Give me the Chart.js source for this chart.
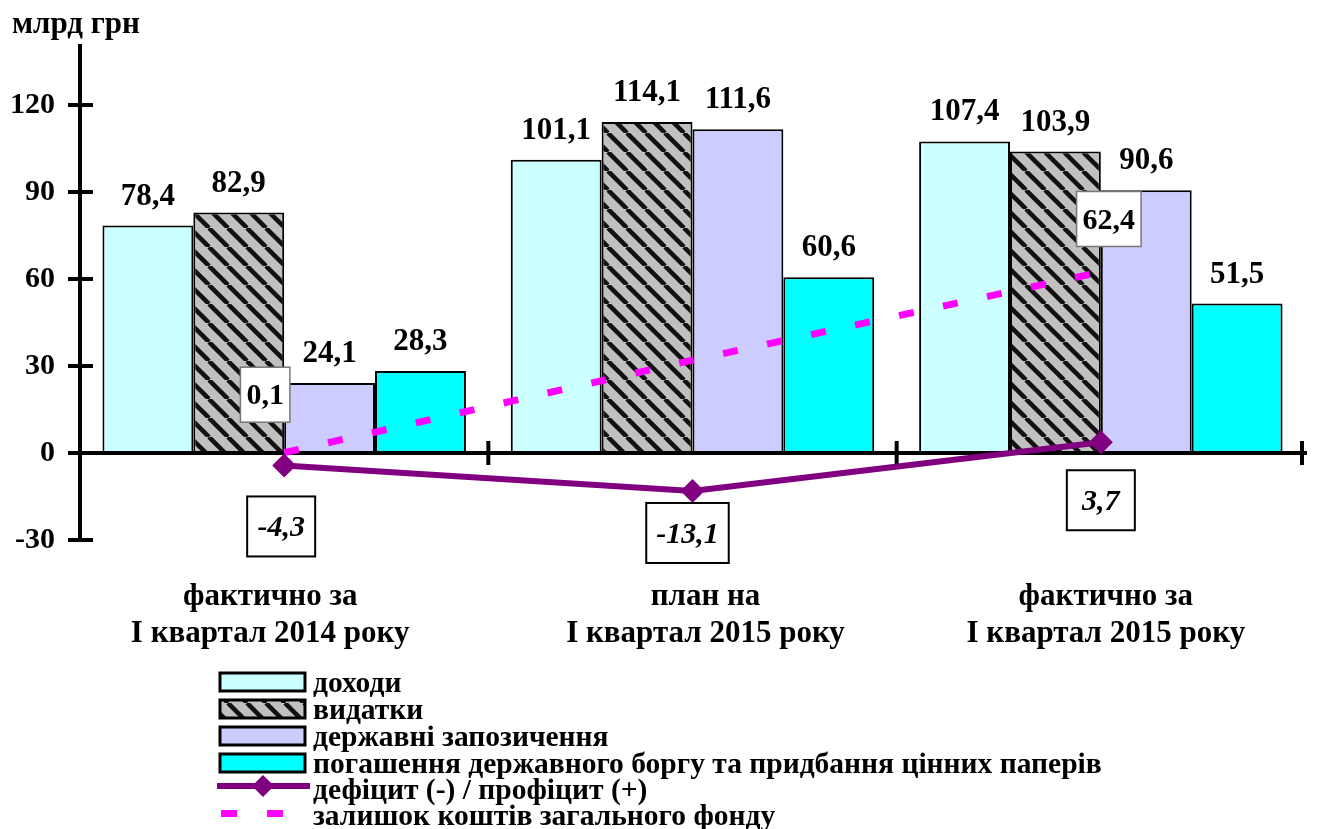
<!DOCTYPE html>
<html>
<head>
<meta charset="utf-8">
<script src="https://cdn.jsdelivr.net/npm/chart.js@4.4.1/dist/chart.umd.min.js"></script>
<style>
  html, body { margin: 0; padding: 0; background: #fff; }
</style>
</head>
<body>
<canvas id="budgetChart" width="1317" height="829"></canvas>
<script>
// Data
const categories = [
  ["фактично за", "І квартал 2014 року"],
  ["план на", "І квартал 2015 року"],
  ["фактично за", "І квартал 2015 року"]
];
const revenues = [78.4, 101.1, 107.4];
const expenditures = [82.9, 114.1, 103.9];
const borrowings = [24.1, 111.6, 90.6];
const debtRepayment = [28.3, 60.6, 51.5];
const deficit = [-4.3, -13.1, 3.7];
const fundBalance = [0.1, 32.0, 62.4];
const yTicks = [-30, 0, 30, 60, 90, 120];
const seriesNames = [
  "доходи",
  "видатки",
  "державні запозичення",
  "погашення державного боргу та придбання цінних паперів",
  "дефіцит (-) / профіцит (+)",
  "залишок коштів загального фонду"
];
const unitLabel = "млрд грн";

const FONT = '"Liberation Serif", "Times New Roman", serif';
const fmt = v => v.toFixed(1).replace(".", ",");

// hatched fill for expenditures
function makeHatch() {
  const s = 19;
  const c = document.createElement("canvas");
  c.width = s; c.height = s;
  const g = c.getContext("2d");
  g.fillStyle = "#c0c0c0";
  g.fillRect(0, 0, s, s);
  g.strokeStyle = "#111";
  g.lineWidth = 4.5;
  for (let k = -1; k <= 1; k++) {
    g.beginPath();
    g.moveTo(k * s, 0);
    g.lineTo(k * s + s, s);
    g.stroke();
  }
  return g.createPattern(c, "repeat");
}
const hatch = makeHatch();
const barColors = ["#ccffff", hatch, "#ccccff", "#00ffff"];

// label placement, like the hand-moved boxes in the source
const fundLabelOffsets = [[-19, -58], null, [8, -53]];
const deficitLabelOffsets = [[-3, 61], [-5, 42], [0, 58]];
const categoryLabelShift = [-14, 13, 5];

const drawExtras = {
  id: "drawExtras",
  afterDatasetDraw(chart, args) {
    // axes go over the bars but under the lines
    if (args.meta.type !== "bar" || args.index !== 0) return;
    const ctx = chart.ctx;
    const x = chart.scales.x, y = chart.scales.y;
    const area = chart.chartArea;
    const zero = y.getPixelForValue(0);
    ctx.save();
    ctx.strokeStyle = "#000";
    ctx.lineWidth = 4;
    ctx.beginPath();
    ctx.moveTo(area.left, area.top);
    ctx.lineTo(area.left, area.bottom);
    yTicks.forEach(v => {
      const py = y.getPixelForValue(v);
      ctx.moveTo(area.left - 12, py);
      ctx.lineTo(area.left + 13, py);
    });
    ctx.moveTo(area.left, zero);
    ctx.lineTo(area.right + 2, zero);
    for (let i = 0; i < categories.length; i++) {
      const px = i < categories.length - 1
        ? (x.getPixelForValue(i) + x.getPixelForValue(i + 1)) / 2
        : area.right - 3;
      ctx.moveTo(px, zero - 12);
      ctx.lineTo(px, zero + 12);
    }
    ctx.stroke();
    ctx.restore();
  },
  afterDraw(chart) {
    const ctx = chart.ctx;
    const x = chart.scales.x;
    ctx.save();
    ctx.fillStyle = "#000";

    // unit title
    ctx.font = "bold 31px " + FONT;
    ctx.textAlign = "left";
    ctx.textBaseline = "alphabetic";
    ctx.fillText(unitLabel, 12, 33);

    // category labels
    ctx.textAlign = "center";
    ctx.font = "bold 31px " + FONT;
    categories.forEach((lines, i) => {
      const cx = x.getPixelForValue(i) + categoryLabelShift[i];
      ctx.fillText(lines[0], cx, 605);
      ctx.fillText(lines[1], cx, 642);
    });

    // bar value labels
    ctx.font = "bold 31px " + FONT;
    for (let d = 0; d < 4; d++) {
      chart.getDatasetMeta(d).data.forEach((el, i) => {
        ctx.fillText(fmt(chart.data.datasets[d].data[i]), el.x, el.y - 21);
      });
    }

    // fund balance labels (white boxes)
    ctx.textBaseline = "middle";
    chart.getDatasetMeta(5).data.forEach((el, i) => {
      const off = fundLabelOffsets[i];
      if (!off) return;
      const txt = fmt(fundBalance[i]);
      ctx.font = "bold 30px " + FONT;
      const w = ctx.measureText(txt).width + 12;
      const h = 55;
      const cx = el.x + off[0], cy = el.y + off[1];
      ctx.fillStyle = "#fff";
      ctx.fillRect(cx - w / 2, cy - h / 2, w, h);
      ctx.strokeStyle = "#777";
      ctx.lineWidth = 1.5;
      ctx.strokeRect(cx - w / 2, cy - h / 2, w, h);
      ctx.fillStyle = "#000";
      ctx.fillText(txt, cx, cy + 2);
    });

    // deficit labels (black boxes, italic)
    chart.getDatasetMeta(4).data.forEach((el, i) => {
      const off = deficitLabelOffsets[i];
      const txt = fmt(deficit[i]);
      ctx.font = "italic bold 30px " + FONT;
      const w = Math.max(ctx.measureText(txt).width + 20, 68);
      const h = 60;
      const cx = el.x + off[0], cy = el.y + off[1];
      ctx.fillStyle = "#fff";
      ctx.fillRect(cx - w / 2, cy - h / 2, w, h);
      ctx.strokeStyle = "#000";
      ctx.lineWidth = 2;
      ctx.strokeRect(cx - w / 2, cy - h / 2, w, h);
      ctx.fillStyle = "#000";
      ctx.fillText(txt, cx, cy + 2);
    });

    // legend
    const lx = 220, lw = 85, tx = 313;
    const rowY = [682, 709, 736, 763, 789, 815];
    ctx.textAlign = "left";
    ctx.textBaseline = "alphabetic";
    ctx.font = "bold 29.5px " + FONT;
    rowY.forEach((cy, i) => {
      if (i < 4) {
        ctx.fillStyle = barColors[i];
        ctx.fillRect(lx, cy - 9, lw, 18);
        ctx.strokeStyle = "#000";
        ctx.lineWidth = 3;
        ctx.strokeRect(lx, cy - 9, lw, 18);
      } else if (i === 4) {
        ctx.strokeStyle = "#800080";
        ctx.lineWidth = 6;
        ctx.beginPath();
        ctx.moveTo(lx - 3, cy - 3);
        ctx.lineTo(lx + lw + 5, cy - 3);
        ctx.stroke();
        ctx.fillStyle = "#800080";
        const dx = lx + 43, dy = cy - 3, r = 11;
        ctx.beginPath();
        ctx.moveTo(dx, dy - r); ctx.lineTo(dx + r, dy);
        ctx.lineTo(dx, dy + r); ctx.lineTo(dx - r, dy);
        ctx.closePath();
        ctx.fill();
      } else {
        ctx.fillStyle = "#ff00ff";
        ctx.fillRect(lx + 1, cy - 5, 16, 7);
        ctx.fillRect(lx + 47, cy - 5, 16, 7);
      }
      ctx.fillStyle = "#000";
      ctx.fillText(seriesNames[i], tx, cy + 10);
    });
    ctx.restore();
  }
};

const ctx = document.getElementById("budgetChart").getContext("2d");

const barSet = (label, data, color) => ({
  type: "bar",
  label: label,
  data: data,
  backgroundColor: color,
  borderColor: "#000",
  borderWidth: 2,
  categoryPercentage: 0.89,
  barPercentage: 1.0,
  order: 2
});

const budgetChart = new Chart(ctx, {
  data: {
    labels: categories,
    datasets: [
      barSet(seriesNames[0], revenues, barColors[0]),
      barSet(seriesNames[1], expenditures, barColors[1]),
      barSet(seriesNames[2], borrowings, barColors[2]),
      barSet(seriesNames[3], debtRepayment, barColors[3]),
      {
        type: "line",
        label: seriesNames[4],
        data: deficit,
        borderColor: "#800080",
        borderWidth: 6,
        pointStyle: "rectRot",
        pointRadius: 12,
        pointBackgroundColor: "#800080",
        pointBorderColor: "#800080",
        pointBorderWidth: 0,
        tension: 0,
        order: 0
      },
      {
        type: "line",
        label: seriesNames[5],
        data: fundBalance,
        borderColor: "#ff00ff",
        borderWidth: 7,
        borderDash: [15, 30],
        borderCapStyle: "butt",
        pointRadius: 0,
        tension: 0,
        order: 1
      }
    ]
  },
  options: {
    responsive: false,
    animation: false,
    devicePixelRatio: 1,
    layout: { padding: { top: 44, right: 9, left: 0, bottom: 0 } },
    plugins: {
      legend: { display: false },
      tooltip: { enabled: false }
    },
    scales: {
      x: {
        grid: { display: false, drawTicks: false },
        border: { display: false },
        ticks: { display: false },
        afterFit: s => { s.height = 289; }
      },
      y: {
        min: -30,
        max: 141,
        afterBuildTicks: s => { s.ticks = yTicks.map(v => ({ value: v })); },
        grid: { display: false, drawTicks: false },
        border: { display: false },
        ticks: {
          color: "#000",
          font: { family: FONT, size: 30, weight: "bold" },
          padding: 25
        },
        afterFit: s => { s.width = 80; }
      }
    }
  },
  plugins: [drawExtras]
});
</script>
</body>
</html>
